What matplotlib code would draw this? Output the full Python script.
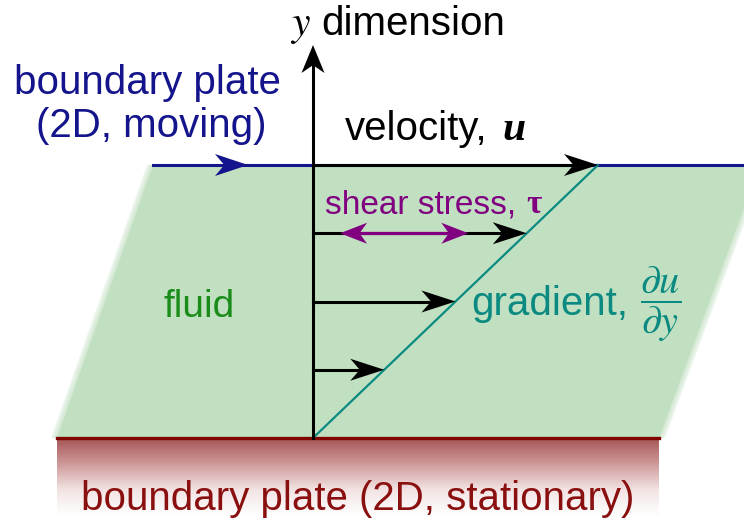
import numpy as np
import matplotlib
matplotlib.use("Agg")
import matplotlib.pyplot as plt
from matplotlib.patches import Polygon
from matplotlib.colors import LinearSegmentedColormap

plt.rcParams['font.family'] = ['Liberation Sans', 'DejaVu Sans']
plt.rcParams['mathtext.fontset'] = 'stix'

# ---- data: linear (Couette) velocity profile ----
profile_heights = [0.25, 0.5, 0.75, 1.0]   # fraction of gap height
profile_speeds = [0.25, 0.5, 0.75, 1.0]    # fraction of plate speed
shear_span = [0.095, 0.545]                # shear-stress arrow, fraction of plate speed
shear_height = 0.75

# ---- layout (pixel coordinates of the picture) ----
X0, Y0 = 313, 438        # origin: bottom of y axis
GAP = 273                # pixel height of the fluid layer
USCALE = 285             # pixel length of plate speed

NAVY = '#14148c'
GREEN_FILL = '#c1e0c1'
GREEN_TXT = '#1a8c1a'
TEAL = '#0a8a80'
PURPLE = '#800080'
DARKRED = '#8a1010'


def px(u, h):
    return X0 + u * USCALE, Y0 - h * GAP


def head(ax, tip, direction, length, width, color, notch=0.28, z=5):
    d = np.array(direction, float)
    d /= np.linalg.norm(d)
    n = np.array([-d[1], d[0]])
    tip = np.array(tip, float)
    back = tip - d * length
    pts = [tip, back + n * width / 2, tip - d * length * (1 - notch), back - n * width / 2]
    ax.add_patch(Polygon(pts, closed=True, color=color, lw=0, zorder=z))


fig = plt.figure(figsize=(7.44, 5.23), dpi=100)
ax = fig.add_axes([0, 0, 1, 1])
ax.set_xlim(0, 744)
ax.set_ylim(523, 0)
ax.axis('off')

# fluid layer with soft slanted edges
top_y = px(0, 1)[1]
for k, off in enumerate([6, 4, 2, 0]):
    ax.add_patch(Polygon([(153 - off, top_y), (760 + off, top_y), (659 + off, Y0), (57 - off, Y0)],
                         closed=True, color=GREEN_FILL, lw=0, alpha=0.3 if off else 1,
                         zorder=1))

# stationary bottom plate with fading gradient
cmap = LinearSegmentedColormap.from_list('plate', ['#a65656', '#cf9a9a', '#f3e4e4', '#ffffff'])
grad = np.linspace(0, 1, 200).reshape(-1, 1)
ax.imshow(grad, cmap=cmap, extent=(57, 659, 516, Y0), aspect='auto', zorder=1)
ax.plot([57, 659], [Y0, Y0], color='#800000', lw=2.4, zorder=3)

# moving top plate
ax.plot([153, 744], [top_y, top_y], color=NAVY, lw=2.2, zorder=3)
head(ax, (248, top_y), (1, 0), 33, 22, NAVY)

# gradient line
tip_x, tip_y = px(profile_speeds[-1], profile_heights[-1])
ax.plot([X0, tip_x], [Y0, tip_y], color=TEAL, lw=1.6, zorder=4)

# velocity arrows
for h, u in zip(profile_heights, profile_speeds):
    x1, y1 = px(u, h)
    ax.plot([X0, x1 - 20], [y1, y1], color='black', lw=2.2, zorder=4)
    head(ax, (x1, y1), (1, 0), 34, 22, 'black')

# y axis
ax.plot([X0, X0], [Y0, 60], color='black', lw=2.2, zorder=5)
head(ax, (X0, 45), (0, -1), 28, 23, 'black', z=6)

# shear stress arrow
sx0, sy = px(shear_span[0], shear_height)
sx1, _ = px(shear_span[1], shear_height)
ax.plot([sx0 + 12, sx1 - 12], [sy, sy], color=PURPLE, lw=2.3, zorder=6)
head(ax, (sx0, sy), (-1, 0), 27, 21, PURPLE, z=7)
head(ax, (sx1, sy), (1, 0), 27, 21, PURPLE, z=7)

# labels
ax.text(300, 35, r'$y$', fontsize=30, ha='center', va='baseline', color='black')
ax.text(321, 35, 'dimension', fontsize=29, ha='left', va='baseline', color='black')
ax.text(147, 94, 'boundary plate', fontsize=29, ha='center', va='baseline', color=NAVY)
ax.text(151, 137, '(2D, moving)', fontsize=29, ha='center', va='baseline', color=NAVY)
ax.text(345, 140, 'velocity,', fontsize=29, ha='left', va='baseline', color='black')
ax.text(502, 140, 'u', fontsize=30, ha='left', va='baseline', color='black',
        family='Liberation Serif', style='italic', weight='bold')
ax.text(325, 213, 'shear stress, ', fontsize=24, ha='left', va='baseline', color=PURPLE)
ax.text(526, 213, 'τ', fontsize=24, ha='left', va='baseline', color=PURPLE,
        family='Liberation Serif', weight='bold')
ax.text(163, 317, 'fluid', fontsize=28, ha='left', va='baseline', color=GREEN_TXT)
ax.text(471, 315, 'gradient,', fontsize=29, ha='left', va='baseline', color=TEAL)
ax.text(661, 304, r'$\dfrac{\partial u}{\partial y}$', fontsize=29, ha='center',
        va='center', color=TEAL)
ax.text(358, 510, 'boundary plate (2D, stationary)', fontsize=29, ha='center',
        va='baseline', color=DARKRED, zorder=4)

fig.savefig('out.png', dpi=100)
